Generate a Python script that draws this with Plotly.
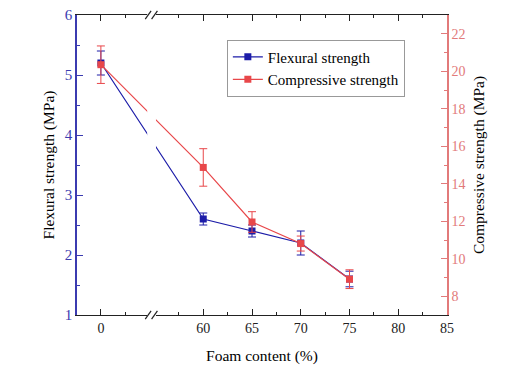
import plotly.graph_objects as go

# ---- data ----
foam = [0, 60, 65, 70, 75]
flexural = [5.2, 2.6, 2.4, 2.2, 1.6]
flexural_err = [0.2, 0.1, 0.1, 0.2, 0.13]
compressive = [20.35, 14.87, 11.96, 10.81, 8.91]
compressive_err = [1.0, 1.0, 0.55, 0.4, 0.5]
x_tick_labels = [0, 60, 65, 70, 75, 80, 85]
x_minor = [2.5, 57.5, 62.5, 67.5, 72.5, 77.5, 82.5]
y_ticks = [1, 2, 3, 4, 5, 6]
y2_ticks = [8, 10, 12, 14, 16, 18, 20, 22]

# broken axis: values >= 60 are shifted left
SHIFT = 49.5
BREAK = 5.2

def pos(v):
    return v if v < 30 else v - SHIFT

BLUE = "#1c1ca8"
BLUE_AX = "#3b3bb0"
RED = "#e8474a"
RED_AX = "#e27a7a"
FONT = "Times New Roman, Liberation Serif, DejaVu Serif, serif"
TITLE_SIZE = 15.5

fig = go.Figure()
fig.add_trace(go.Scatter(
    x=[pos(v) for v in foam], y=flexural, name="Flexural strength",
    mode="lines+markers",
    line=dict(color=BLUE, width=1.2),
    marker=dict(symbol="square", size=7, color=BLUE),
    error_y=dict(type="data", array=flexural_err, color=BLUE, thickness=1, width=4),
))
fig.add_trace(go.Scatter(
    x=[pos(v) for v in foam], y=compressive, name="Compressive strength",
    mode="lines+markers", yaxis="y2",
    line=dict(color=RED, width=1.2),
    marker=dict(symbol="square", size=7, color=RED),
    error_y=dict(type="data", array=compressive_err, color=RED, thickness=1, width=4),
))

# break band and slashes
shapes = [dict(type="rect", xref="x", yref="paper", x0=BREAK - 0.45, x1=BREAK + 0.45,
               y0=-0.02, y1=1.02, fillcolor="white", line=dict(width=0), layer="above")]
for yc in (0.0, 1.0):
    for dx in (-0.35, 0.3):
        shapes.append(dict(type="line", xref="x", yref="paper",
                           x0=BREAK + dx - 0.3, x1=BREAK + dx + 0.3,
                           y0=yc - 0.014, y1=yc + 0.014,
                           line=dict(color="#222", width=1.2), layer="above"))

fig.update_layout(
    width=518, height=371,
    margin=dict(l=69, r=79, t=7, b=64),
    paper_bgcolor="white", plot_bgcolor="white",
    font=dict(family=FONT, size=14, color="black"),
    shapes=shapes,
    showlegend=True,
    legend=dict(x=0.405, y=0.918, xanchor="left", yanchor="top",
                bgcolor="white", bordercolor="#999", borderwidth=1,
                font=dict(family=FONT, size=15), tracegroupgap=0),
    xaxis=dict(
        range=[-2.45, 35.5], automargin=False,
        tickmode="array",
        tickvals=[pos(v) for v in x_tick_labels],
        ticktext=[str(v) for v in x_tick_labels],
        ticks="inside", ticklen=6, tickcolor="#222", tickwidth=1,
        minor=dict(tickmode="array", tickvals=[pos(v) for v in x_minor],
                   ticks="inside", ticklen=3, tickcolor="#222", showgrid=False),
        showline=True, linecolor="#222", linewidth=1, mirror="ticks",
        showgrid=False, zeroline=False, ticklabeloverflow="allow",
        title=dict(text="Foam content (%)", font=dict(family=FONT, size=TITLE_SIZE), standoff=15),
        tickfont=dict(family=FONT, size=14, color="#222"),
    ),
    yaxis=dict(
        range=[1, 6], tickmode="array", tickvals=y_ticks, automargin=False,
        ticks="inside", ticklen=6, tickcolor=BLUE_AX,
        minor=dict(dtick=0.5, tick0=1, ticks="inside", ticklen=3, tickcolor=BLUE_AX, showgrid=False),
        showline=True, linecolor=BLUE_AX, linewidth=1.5,
        showgrid=False, zeroline=False, ticklabeloverflow="allow",
        tickfont=dict(family=FONT, size=15, color=BLUE_AX),
        title=dict(text="Flexural strength (MPa)", font=dict(family=FONT, size=TITLE_SIZE, color="black"), standoff=6),
    ),
    yaxis2=dict(
        range=[7, 23], overlaying="y", side="right", automargin=False,
        tickmode="array", tickvals=y2_ticks,
        ticks="inside", ticklen=6, tickcolor=RED_AX,
        minor=dict(dtick=1, tick0=7, ticks="inside", ticklen=3, tickcolor=RED_AX, showgrid=False),
        showline=True, linecolor=RED_AX, linewidth=1.5,
        showgrid=False, zeroline=False, ticklabeloverflow="allow",
        tickfont=dict(family=FONT, size=14, color=RED_AX),
        title=dict(text="Compressive strength (MPa)", font=dict(family=FONT, size=TITLE_SIZE, color="black"), standoff=9),
    ),
)

fig.write_html("out.html")
